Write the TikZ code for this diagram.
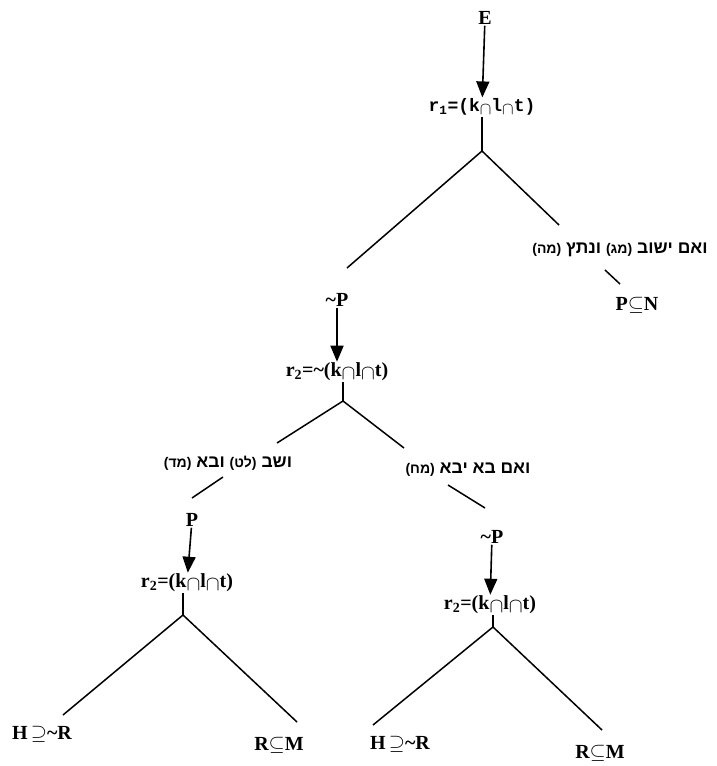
\documentclass[tikz,border=0pt]{standalone}
\usepackage{fontspec}
\setmainfont{Liberation Serif}
\newfontfamily\hebfont[Script=Hebrew]{Liberation Sans}
\newfontfamily\codefont{Liberation Mono}
\usetikzlibrary{arrows.meta}
\TeXXeTstate=1

% small helpers
\newcommand{\capx}{\raisebox{-2.5pt}{$\cap$}}
\newcommand{\til}{\textasciitilde}
\newcommand{\vs}[1]{{\fontsize{14}{16}\selectfont(#1)}}

\tikzset{
  lbl/.style={font=\fontsize{20}{22}\selectfont\bfseries, inner sep=1pt},
  code/.style={font=\fontsize{18}{20}\selectfont\codefont\bfseries, inner sep=1pt},
  heb/.style={font=\fontsize{17.5}{20}\selectfont\hebfont\bfseries, inner sep=1pt},
  down/.style={-{Triangle[width=13pt,length=16pt]}, line width=1.6pt},
  branch/.style={line width=1.5pt},
}

\begin{document}
\begin{tikzpicture}[x=1pt, y=-1pt]
\useasboundingbox (0,0) rectangle (717,766);

% Top: E and r1
\node[lbl] (E) at (485,18) {E};
\node[code] (r1) at (482,107) {r\textsubscript{1}=(k\capx l\capx t)};
\draw[down] (E) -- (r1);

% First fork
\coordinate (f1) at (482,151);
\coordinate (f1l) at (347,268);
\coordinate (f1r) at (559,225);
\draw[branch] (r1) -- (f1);
\draw[branch] (f1l) -- (f1) -- (f1r);

% Right leaf of first fork
\node[heb] (labA) at (620,250) {\beginR ואם ישוב \vs{מג} ונתץ \vs{מה}\endR};
\coordinate (a1) at (605,270);
\coordinate (a2) at (620,284);
\draw[branch] (a1) -- (a2);
\node[lbl] (PN) at (637,305) {P$\subseteq$N};

% Left leaf: ~P and r2
\node[lbl] (nP1) at (337,300) {\til P};
\node[lbl] (r2a) at (337,372) {r\textsubscript{2}=\til(k\capx l\capx t)};
\draw[down] (nP1) -- (r2a);

% Second fork
\coordinate (f2) at (343,401);
\coordinate (f2l) at (277,443);
\coordinate (f2r) at (404,448);
\draw[branch] (f2 |- r2a.south) -- (f2);
\draw[branch] (f2l) -- (f2) -- (f2r);

\node[heb] (labB) at (228,463) {\beginR ושב \vs{לט} ובא \vs{מד}\endR};
\node[heb] (labC) at (468,470) {\beginR ואם בא יבא \vs{מח}\endR};
\coordinate (b1) at (223,477);
\coordinate (b2) at (192,498);
\coordinate (c1) at (448,485);
\coordinate (c2) at (485,508);
\draw[branch] (b1) -- (b2);
\draw[branch] (c1) -- (c2);

% Lower left subtree
\node[lbl] (P2) at (192,520) {P};
\node[lbl] (r2b) at (187,583) {r\textsubscript{2}=(k\capx l\capx t)};
\draw[down] (P2) -- (r2b);
\coordinate (f3) at (183,615);
\coordinate (f3l) at (63,715);
\coordinate (f3r) at (297,722);
\draw[branch] (f3 |- r2b.south) -- (f3);
\draw[branch] (f3l) -- (f3) -- (f3r);
\node[lbl] (HR1) at (42,734) {H\,$\supseteq$\til R};
\node[lbl] (RM1) at (279,745) {R$\subseteq$M};

% Lower right subtree
\node[lbl] (nP2) at (492,537) {\til P};
\node[lbl] (r2c) at (490,605) {r\textsubscript{2}=(k\capx l\capx t)};
\draw[down] (nP2) -- (r2c);
\coordinate (f4) at (493,627);
\coordinate (f4l) at (373,725);
\coordinate (f4r) at (602,730);
\draw[branch] (f4 |- r2c.south) -- (f4);
\draw[branch] (f4l) -- (f4) -- (f4r);
\node[lbl] (HR2) at (400,744) {H\,$\supseteq$\til R};
\node[lbl] (RM2) at (600,753) {R$\subseteq$M};

\end{tikzpicture}
\end{document}
